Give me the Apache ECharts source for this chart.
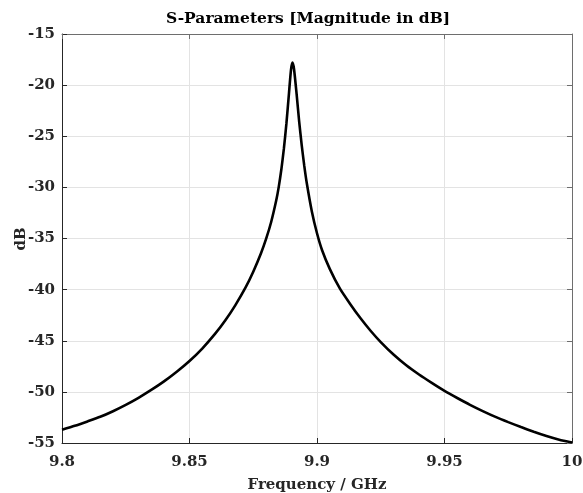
<!DOCTYPE html>
<html>
<head>
<meta charset="utf-8">
<script src="https://cdn.jsdelivr.net/npm/echarts@6/dist/echarts.min.js"></script>
<style>html,body{margin:0;padding:0;background:#fff;}#c{width:583px;height:493px;}</style>
</head>
<body>
<div id="c"></div>
<script>
var freqGHz = [9.800, 9.805, 9.810, 9.815, 9.820, 9.825, 9.830, 9.835, 9.840, 9.845, 9.850, 9.855, 9.860, 9.864, 9.868, 9.872, 9.875, 9.878, 9.880, 9.882, 9.884, 9.885, 9.886, 9.887, 9.888, 9.889, 9.8898, 9.8904,
  9.891, 9.892, 9.893, 9.894, 9.895, 9.896, 9.898, 9.900, 9.902, 9.905, 9.909, 9.913, 9.917, 9.921, 9.925, 9.930, 9.935, 9.940, 9.945, 9.950, 9.955, 9.960, 9.965, 9.970, 9.975, 9.980, 9.985, 9.990, 9.995, 10.000];
var magDB = [-53.7, -53.32, -52.89, -52.44, -51.89, -51.27, -50.58, -49.81, -48.97, -48.03, -46.98, -45.76, -44.33, -43.02, -41.51, -39.79, -38.25, -36.47, -35.07, -33.41, -31.29, -29.95, -28.28, -26.24, -23.77, -20.83, -18.5, -17.8,
  -18.45, -20.86, -23.55, -25.86, -27.88, -29.6, -32.38, -34.49, -36.15, -37.97, -39.91, -41.4, -42.78, -44.02, -45.13, -46.35, -47.4, -48.3, -49.12, -49.9, -50.6, -51.27, -51.88, -52.45, -52.96, -53.44, -53.9, -54.32, -54.68, -54.95];
var xTicks = [9.8, 9.85, 9.9, 9.95, 10];
var yTicks = [-55, -50, -45, -40, -35, -30, -25, -20, -15];

var FONT = 'DejaVu Serif';
var chart = echarts.init(document.getElementById('c'), null, {renderer: 'canvas'});
var pts = freqGHz.map(function (f, i) { return [f, magDB[i]]; });
var labelStyle = {fontFamily: FONT, fontWeight: 'bold', fontSize: 15, color: '#262626'};
chart.setOption({
  animation: false,
  backgroundColor: '#fff',
  title: {
    text: 'S-Parameters [Magnitude in dB]',
    left: 303, top: 6, textAlign: 'center',
    textStyle: {fontFamily: FONT, fontWeight: 'bold', fontSize: 15.5, color: '#000'}
  },
  graphic: [{
    type: 'text', x: 21, y: 239, rotation: Math.PI / 2,
    style: {text: 'dB', fontFamily: FONT, fontWeight: 'bold', fontSize: 15, fill: '#262626', align: 'center', verticalAlign: 'middle'}
  }],
  grid: {left: 62, right: 11, top: 34, bottom: 50, containLabel: false, outerBoundsMode: 'none'},
  xAxis: [{
    type: 'value', min: xTicks[0], max: xTicks[xTicks.length - 1], interval: 0.05,
    name: 'Frequency / GHz', nameLocation: 'middle', nameGap: 35,
    nameTextStyle: {fontFamily: FONT, fontWeight: 'bold', fontSize: 15, color: '#262626'},
    axisLine: {show: true, lineStyle: {color: '#262626', width: 1}},
    axisTick: {show: true, inside: true, length: 5, lineStyle: {color: '#262626'}},
    axisLabel: Object.assign({margin: 12}, labelStyle),
    splitLine: {show: true, lineStyle: {color: '#e3e3e3', width: 1}}
  }, {
    type: 'value', position: 'top', min: xTicks[0], max: xTicks[xTicks.length - 1], interval: 0.05,
    axisLine: {show: true, lineStyle: {color: '#6e6e6e', width: 1}},
    axisTick: {show: true, inside: true, length: 5, lineStyle: {color: '#6e6e6e'}},
    axisLabel: {show: false}, splitLine: {show: false}
  }],
  yAxis: [{
    type: 'value', min: yTicks[0], max: yTicks[yTicks.length - 1], interval: 5,
    axisLine: {show: true, lineStyle: {color: '#262626', width: 1}},
    axisTick: {show: true, inside: true, length: 5, lineStyle: {color: '#262626'}},
    axisLabel: Object.assign({margin: 7}, labelStyle),
    splitLine: {show: true, lineStyle: {color: '#e3e3e3', width: 1}}
  }, {
    type: 'value', position: 'right', min: yTicks[0], max: yTicks[yTicks.length - 1], interval: 5,
    axisLine: {show: true, lineStyle: {color: '#6e6e6e', width: 1}},
    axisTick: {show: true, inside: true, length: 5, lineStyle: {color: '#6e6e6e'}},
    axisLabel: {show: false}, splitLine: {show: false}
  }],
  series: [{
    type: 'line', data: pts, xAxisIndex: 0, yAxisIndex: 0,
    showSymbol: false, smooth: 0.2,
    lineStyle: {color: '#000', width: 2.6}
  }]
});
</script>
</body>
</html>
